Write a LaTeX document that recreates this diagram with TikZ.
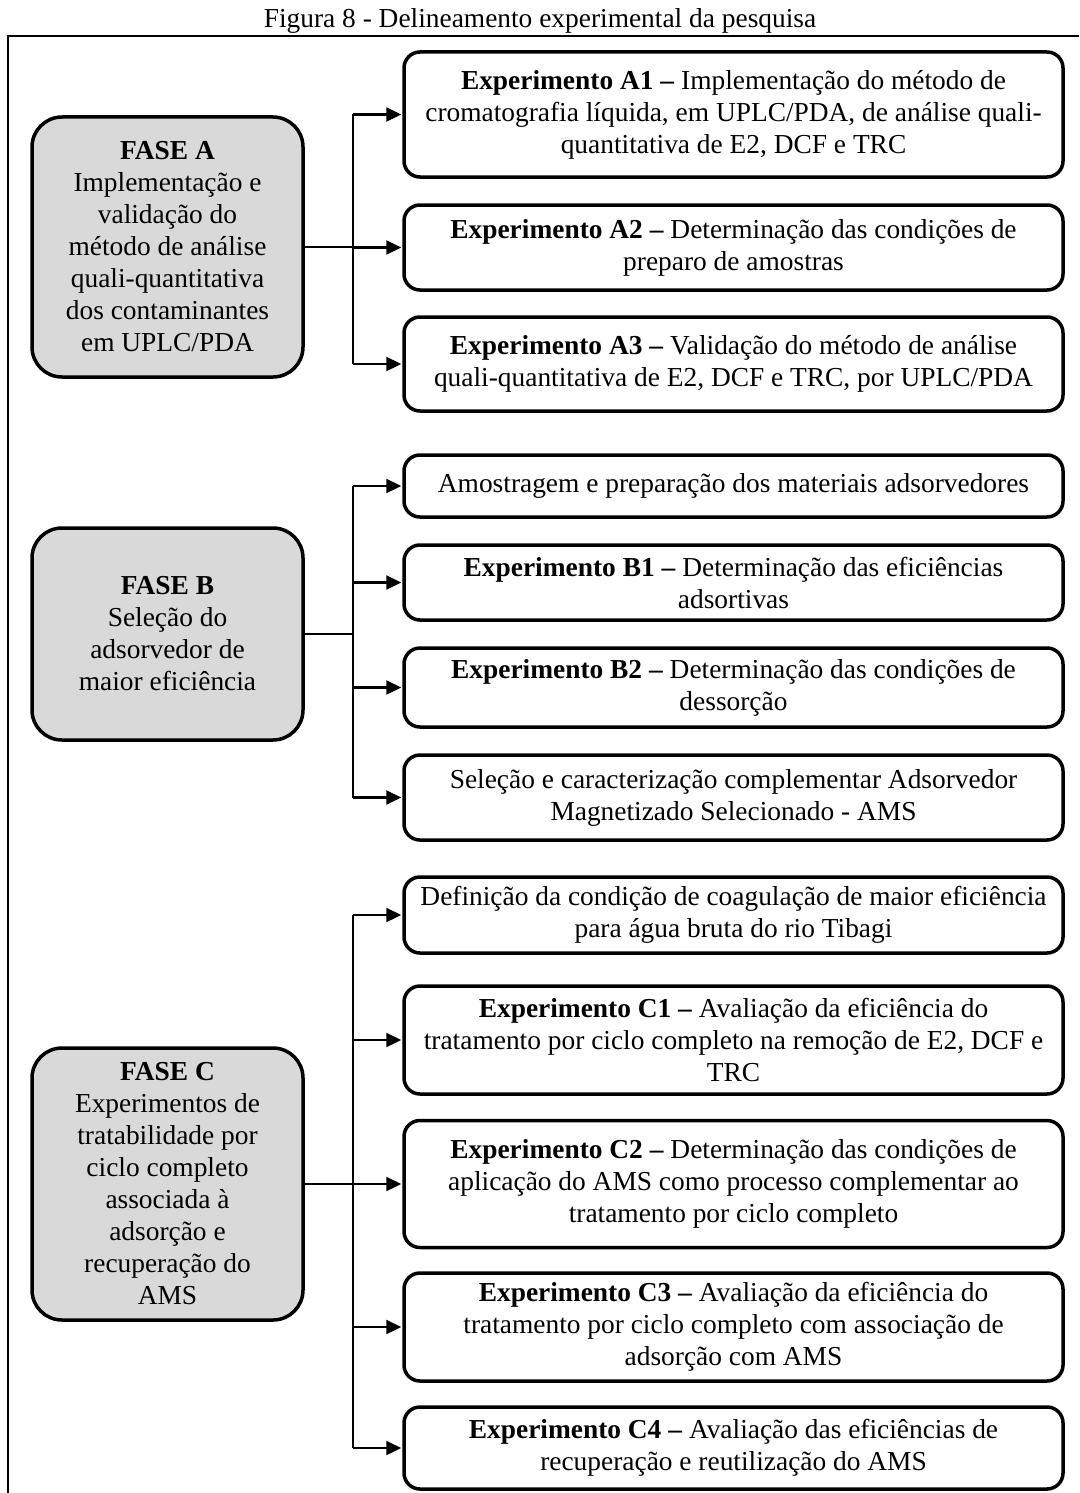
\documentclass[tikz,border=0pt]{standalone}
\usepackage{fontspec}
\setmainfont{Liberation Serif}
\usetikzlibrary{arrows.meta}
\definecolor{phasefill}{RGB}{217,217,217}
\begin{document}
\begin{tikzpicture}[x=1pt,y=-1pt,
  txt/.style={font=\fontsize{27.4}{32}\selectfont},
  phase/.style={txt, draw, line width=3.5pt, fill=phasefill, rounded corners=30pt,
    align=center, minimum width=271pt, inner sep=0pt},
  expbox/.style={txt, draw, line width=3.5pt, rounded corners=16pt,
    align=center, minimum width=659pt, inner sep=0pt},
  wire/.style={line width=2.3pt},
  link/.style={line width=2.3pt, -{Triangle[length=15pt,width=14pt]}, shorten >=1pt}]

\useasboundingbox (0,0) rectangle (1079,1493);

% caption and frame
\node[txt, anchor=base] (cap) at (540,28) {Figura 8 - Delineamento experimental da pesquisa};
\draw[line width=2pt] (8,1493) -- (8,36) -- (1079,36);

% phases
\node[phase, minimum height=260pt] (pa) at (167.5,247) {\textbf{FASE A}\\Implementação e\\validação do\\método de análise\\quali-quantitativa\\dos contaminantes\\em UPLC/PDA};
\node[phase, minimum height=212pt] (pb) at (167.5,634) {\textbf{FASE B}\\Seleção do\\adsorvedor de\\maior eficiência};
\node[phase, minimum height=272pt] (pc) at (167.5,1184) {\textbf{FASE C}\\Experimentos de\\tratabilidade por\\ciclo completo\\associada à\\adsorção e\\recuperação do\\AMS};

% phase A experiments
\node[expbox, minimum height=125pt] (a1) at (733.5,114.5) {\textbf{Experimento A1 –} Implementação do método de\\cromatografia líquida, em UPLC/PDA, de análise quali-\\quantitativa de E2, DCF e TRC};
\node[expbox, minimum height=85pt] (a2) at (733.5,247.5) {\textbf{Experimento A2 –} Determinação das condições de\\preparo de amostras};
\node[expbox, minimum height=94pt] (a3) at (733.5,364) {\textbf{Experimento A3 –} Validação do método de análise\\quali-quantitativa de E2, DCF e TRC, por UPLC/PDA};

% phase B experiments
\node[expbox, minimum height=62pt] (b0) at (733.5,486) {Amostragem e preparação dos materiais adsorvedores};
\node[expbox, minimum height=75pt] (b1) at (733.5,582.5) {\textbf{Experimento B1 –} Determinação das eficiências\\adsortivas};
\node[expbox, minimum height=79pt] (b2) at (733.5,687.5) {\textbf{Experimento B2 –} Determinação das condições de\\dessorção};
\node[expbox, minimum height=85pt] (b3) at (733.5,797.5) {Seleção e caracterização complementar Adsorvedor\\Magnetizado Selecionado - AMS};

% phase C experiments
\node[expbox, minimum height=76pt] (c0) at (733.5,915) {Definição da condição de coagulação de maior eficiência\\para água bruta do rio Tibagi};
\node[expbox, minimum height=108pt] (c1) at (733.5,1040) {\textbf{Experimento C1 –} Avaliação da eficiência do\\tratamento por ciclo completo na remoção de E2, DCF e\\TRC};
\node[expbox, minimum height=127pt] (c2) at (733.5,1184) {\textbf{Experimento C2 –} Determinação das condições de\\aplicação do AMS como processo complementar ao\\tratamento por ciclo completo};
\node[expbox, minimum height=108pt] (c3) at (733.5,1327) {\textbf{Experimento C3 –} Avaliação da eficiência do\\tratamento por ciclo completo com associação de\\adsorção com AMS};
\node[expbox, minimum height=82pt] (c4) at (733.5,1448) {\textbf{Experimento C4 –} Avaliação das eficiências de\\recuperação e reutilização do AMS};

% branching connectors
\coordinate (busA) at (353,247);
\coordinate (busB) at (353,634);
\coordinate (busC) at (353,1184);

\draw[wire] (pa.east) -- (busA);
\draw[wire] (busA |- a1.west) -- (busA |- a3.west);
\foreach \n in {a1,a2,a3} \draw[link] (busA |- \n.west) -- (\n.west);

\draw[wire] (pb.east) -- (busB);
\draw[wire] (busB |- b0.west) -- (busB |- b3.west);
\foreach \n in {b0,b1,b2,b3} \draw[link] (busB |- \n.west) -- (\n.west);

\draw[wire] (pc.east) -- (busC);
\draw[wire] (busC |- c0.west) -- (busC |- c4.west);
\foreach \n in {c0,c1,c2,c3,c4} \draw[link] (busC |- \n.west) -- (\n.west);
\end{tikzpicture}
\end{document}
